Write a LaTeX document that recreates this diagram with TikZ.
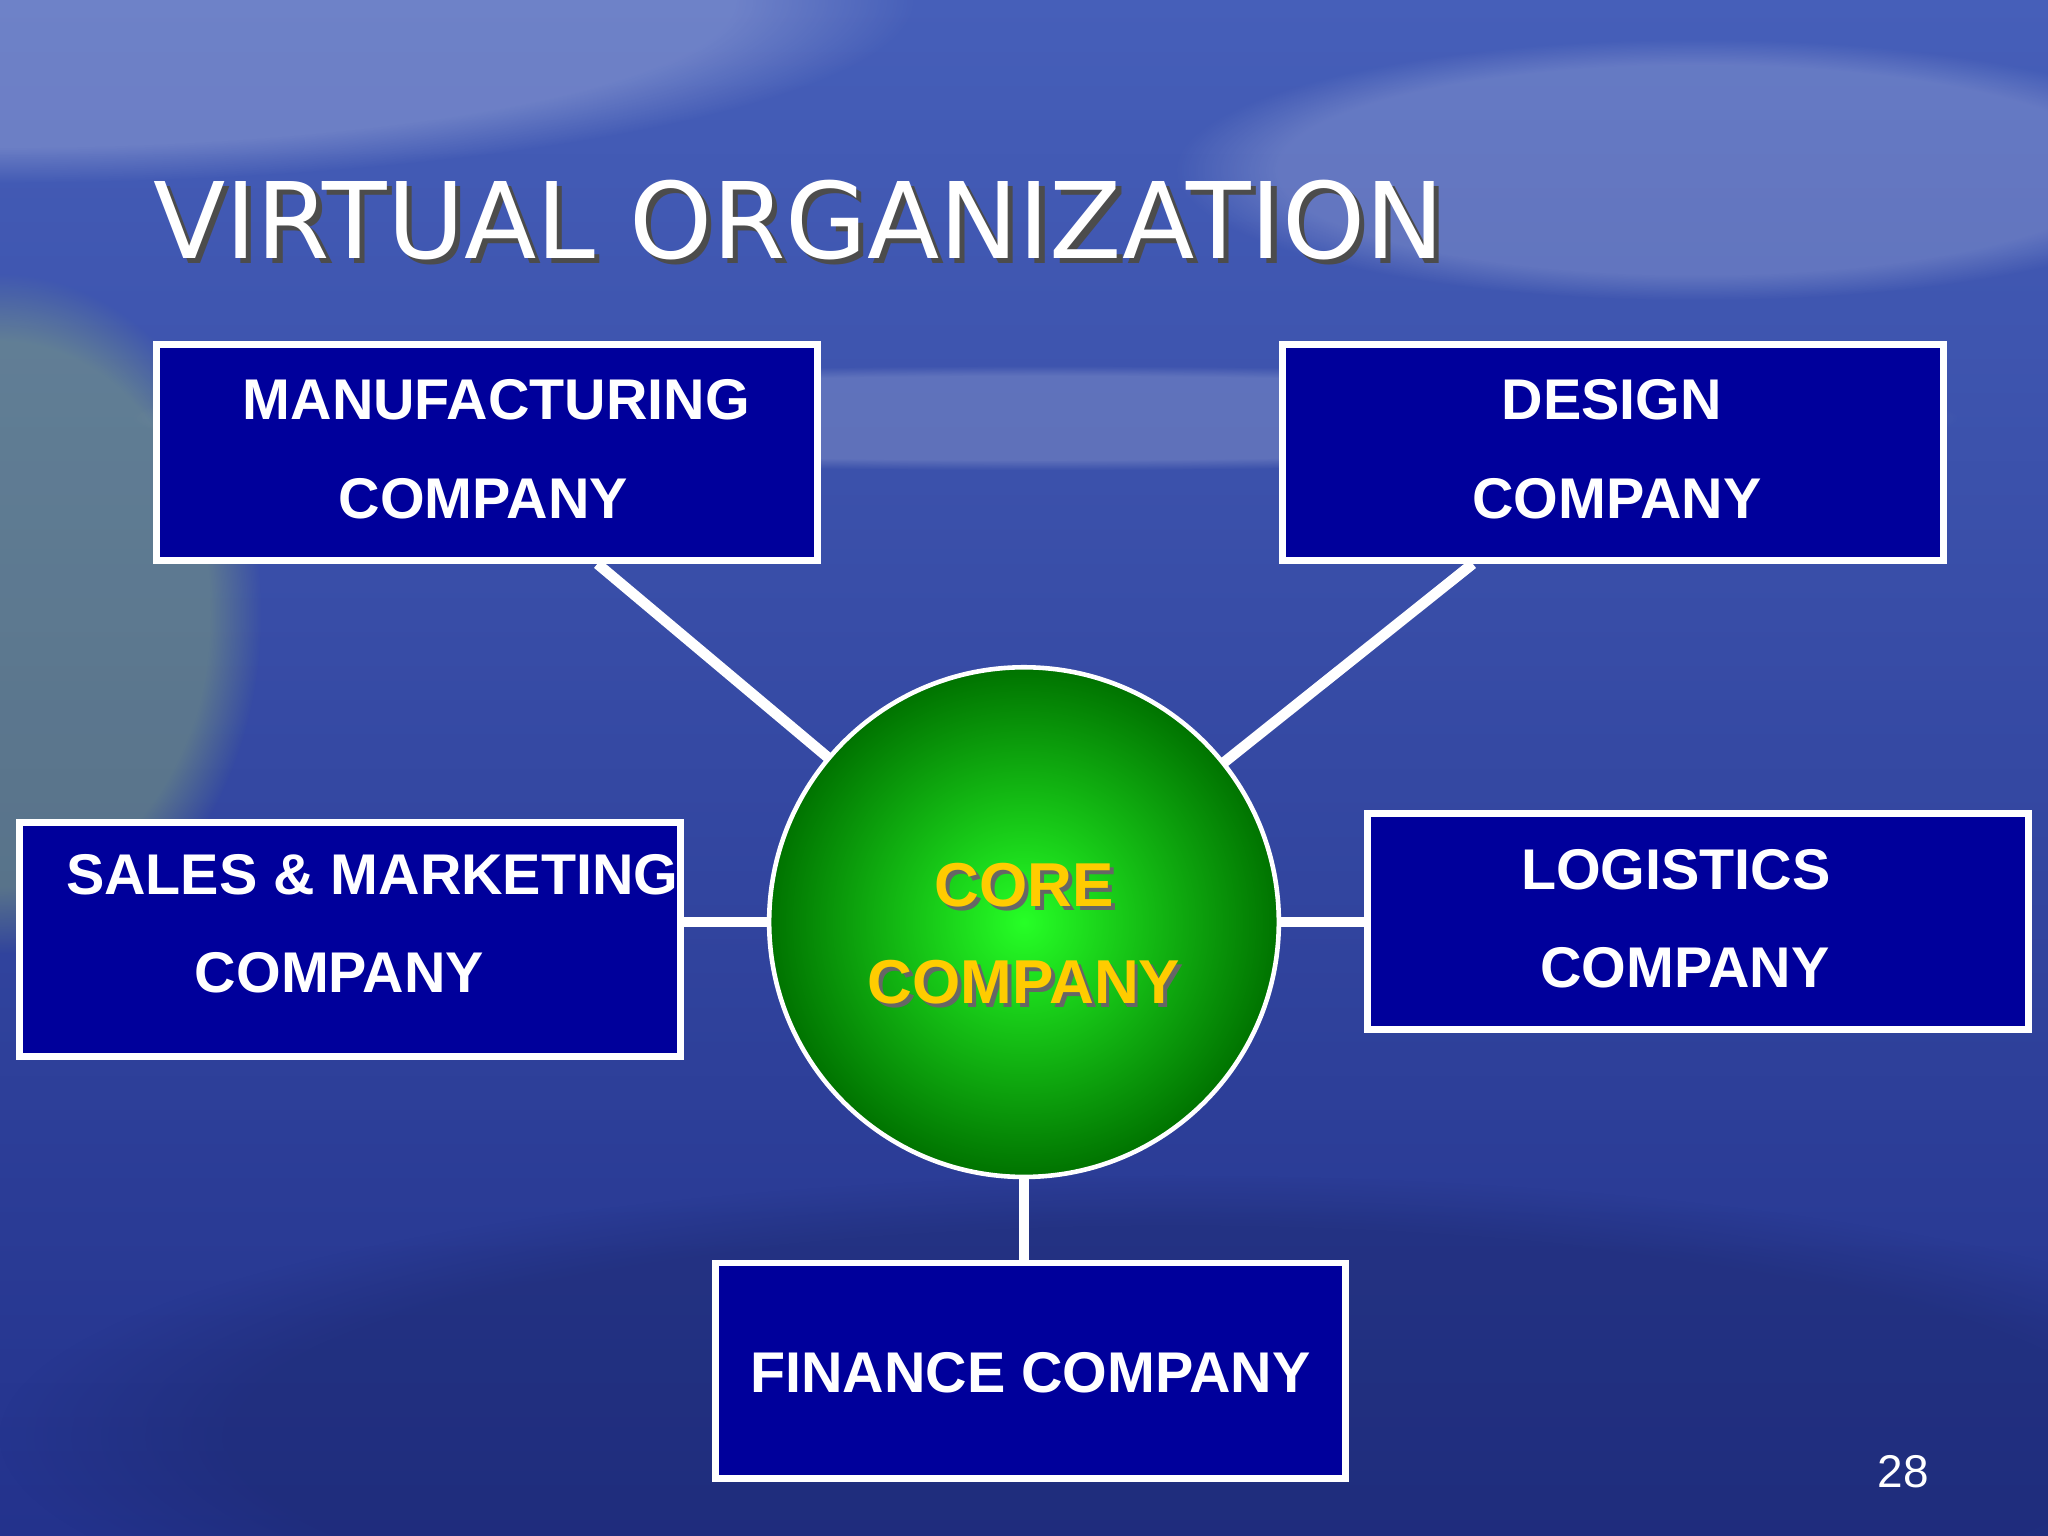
\documentclass[tikz,border=0pt]{standalone}
\usepackage{fontspec}
\setmainfont{Liberation Sans}
\newfontfamily\titlefont{DejaVu Sans}
\usetikzlibrary{fadings,backgrounds,calc}
\definecolor{boxblue}{RGB}{0,0,155}
\definecolor{skytop}{RGB}{70,95,185}
\definecolor{seabot}{RGB}{35,50,140}
\definecolor{coreyel}{RGB}{255,204,0}
\tikzset{
  cbox/.style={draw=white,line width=1.5pt,fill=boxblue,inner sep=0pt},
  btxt/.style={text=white,font=\bfseries\fontsize{12.5}{15}\selectfont},
  link/.style={draw=white,line width=2.3pt}
}
\begin{document}
\begin{tikzpicture}[x=0.01cm,y=-0.01cm]
\useasboundingbox (0,0) rectangle (1568,1176);
% title
\node[anchor=base west,text=black!70,font=\titlefont\fontsize{23}{28}\selectfont] at (109,202) {VIRTUAL ORGANIZATION};
\node[anchor=base west,text=white,font=\titlefont\fontsize{23}{28}\selectfont] (title) at (105,198) {VIRTUAL ORGANIZATION};
% boxes
\node[cbox,minimum width=5.06cm,minimum height=1.65cm] (man) at (373,346.5) {};
\node[btxt] at (380,306) {MANUFACTURING};
\node[btxt] at (370,382) {COMPANY};
\node[cbox,minimum width=5.06cm,minimum height=1.65cm] (des) at (1235,346.5) {};
\node[btxt] at (1234,306) {DESIGN};
\node[btxt] at (1238,382) {COMPANY};
\node[cbox,minimum width=5.06cm,minimum height=1.79cm] (sal) at (268,719.5) {};
\node[btxt] at (285,670) {SALES \& MARKETING};
\node[btxt] at (260,745) {COMPANY};
\node[cbox,minimum width=5.06cm,minimum height=1.65cm] (log) at (1300,705.5) {};
\node[btxt] at (1283,666) {LOGISTICS};
\node[btxt] at (1290,741) {COMPANY};
\node[cbox,minimum width=4.82cm,minimum height=1.65cm] (fin) at (789,1049.5) {};
\node[btxt] at (789,1051) {FINANCE COMPANY};
% core
\node[circle,draw=white,line width=1pt,inner color=green!85!white,outer color=green!45!black,minimum size=3.9cm] (core) at (784,706) {};
\foreach \t/\y in {CORE/678,COMPANY/752}{
  \node[text=black!60,font=\bfseries\fontsize{13.5}{16}\selectfont] at (787,\y+3) {\t};
  \node[text=coreyel,font=\bfseries\fontsize{13.5}{16}\selectfont] at (784,\y) {\t};
}
\coordinate (m1) at ($(man.south west)!0.665!(man.south east)$);
\coordinate (d1) at ($(des.south west)!0.29!(des.south east)$);
\begin{scope}[on background layer]
\shade[top color=skytop,bottom color=seabot] (0,0) rectangle (1568,1176);
\fill[white,opacity=0.22,path fading=circle with fuzzy edge 20 percent] (0,0) ellipse (700 and 140);
\fill[white,opacity=0.18,path fading=circle with fuzzy edge 20 percent] (1300,130) ellipse (400 and 100);
\fill[white,opacity=0.18,path fading=circle with fuzzy edge 20 percent] (800,320) ellipse (700 and 40);
\fill[yellow!70!cyan,opacity=0.3,path fading=circle with fuzzy edge 20 percent] (0,470) ellipse (200 and 260);
\fill[seabot!70!black,opacity=0.35,path fading=circle with fuzzy edge 20 percent] (900,1100) ellipse (900 and 200);
\draw[link] (m1) -- (core.center);
\draw[link] (d1) -- (core.center);
\draw[link] (sal.east |- core.center) -- (core.center);
\draw[link] (log.west |- core.center) -- (core.center);
\draw[link] (fin.north -| core.south) -- (core.center);
\end{scope}
\node[text=white,font=\fontsize{10}{12}\selectfont] (pg) at (1457,1127) {28};
\end{tikzpicture}
\end{document}
